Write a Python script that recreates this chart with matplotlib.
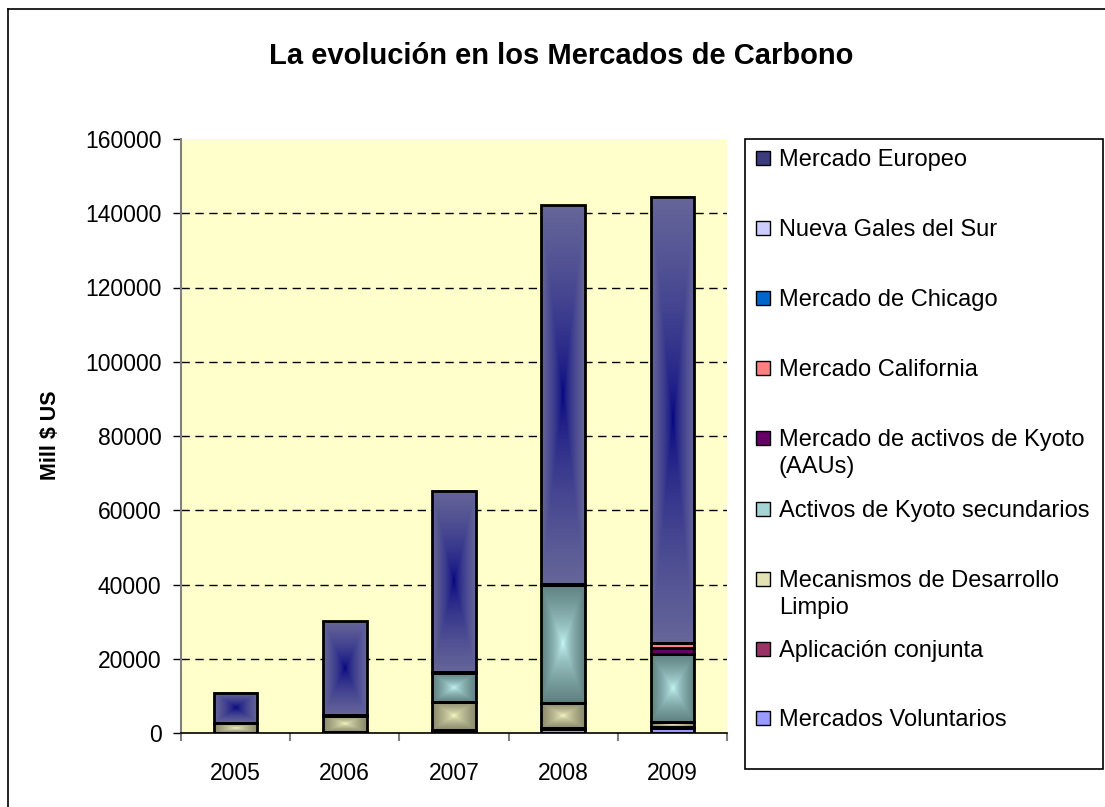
import numpy as np
import matplotlib
matplotlib.use("Agg")
from matplotlib import pyplot as plt
from matplotlib.patches import Rectangle
from matplotlib.lines import Line2D
from matplotlib.colors import to_rgb

plt.rcParams['font.family'] = ['Liberation Sans', 'DejaVu Sans']

# data (Mill $ US), stacked bottom -> top
years = ['2005', '2006', '2007', '2008', '2009']
voluntarios = [50, 100, 300, 1000, 1400]
aplicacion = [70, 140, 500, 300, 350]
mdl = [2450, 4400, 7600, 6700, 1300]
secundarios = [0, 0, 7650, 31900, 18150]
aau = [0, 0, 0, 0, 1800]
california = [0, 0, 0, 0, 1150]
chicago = [3, 40, 70, 100, 50]
nsw = [60, 230, 220, 180, 120]
europeo = [8200, 25300, 48850, 102050, 120140]

series = [
    ('Mercados Voluntarios', voluntarios),
    ('Aplicación conjunta', aplicacion),
    ('Mecanismos de Desarrollo\nLimpio', mdl),
    ('Activos de Kyoto secundarios', secundarios),
    ('Mercado de activos de Kyoto\n(AAUs)', aau),
    ('Mercado California', california),
    ('Mercado de Chicago', chicago),
    ('Nueva Gales del Sur', nsw),
    ('Mercado Europeo', europeo),
]

# flat colour (legend) and optional gradient (edge, centre)
styles = {
    'Mercados Voluntarios': ('#9999ff', None),
    'Aplicación conjunta': ('#993366', None),
    'Mecanismos de Desarrollo\nLimpio': ('#e2e2b4', ('#8a8a6c', '#ffffcc')),
    'Activos de Kyoto secundarios': ('#a4d4d4', ('#5f8080', '#ccffff')),
    'Mercado de activos de Kyoto\n(AAUs)': ('#660066', None),
    'Mercado California': ('#ff8080', None),
    'Mercado de Chicago': ('#0066cc', None),
    'Nueva Gales del Sur': ('#ccccff', None),
    'Mercado Europeo': ('#3c3c7c', ('#666699', '#000080')),
}

W, H = 1105, 807
fig = plt.figure(figsize=(W / 100, H / 100), dpi=100)

def fx(px):
    return px / W

def fy(py):
    return 1 - py / H

ax = fig.add_axes([fx(181), fy(733), fx(727) - fx(181), fy(139) - fy(733)])
ax.set_facecolor('#ffffcc')

x = np.arange(len(years))
bottom = np.zeros(len(years))
for name, vals in series:
    flat, grad = styles[name]
    vals = np.array(vals, dtype=float)
    bars = ax.bar(x, vals, 0.4, bottom=bottom,
                  facecolor='none' if grad else flat,
                  edgecolor='black', linewidth=2, zorder=3)
    if grad:
        edge = np.array(to_rgb(grad[0]))
        centre = np.array(to_rgb(grad[1]))
        for r in bars:
            h = r.get_height()
            if h <= 0:
                continue
            u = np.abs(np.linspace(-1, 1, 80))
            v = np.abs(np.linspace(-1, 1, 240))
            t = np.maximum(u[None, :], v[:, None]) ** 0.6
            img = centre + (edge - centre) * t[..., None]
            ax.imshow(img, extent=[r.get_x(), r.get_x() + r.get_width(),
                                   r.get_y(), r.get_y() + h],
                      origin='lower', aspect='auto', interpolation='bilinear',
                      zorder=2)
    bottom += vals

ax.set_xlim(-0.5, 4.5)
ax.set_ylim(0, 160000)
ax.set_yticks(np.arange(0, 160001, 20000))
ax.set_yticklabels([str(v) for v in range(0, 160001, 20000)])
for yv in range(20000, 160000, 20000):
    ax.axhline(yv, color='black', lw=1, ls=(0, (6, 4)), zorder=1)

ax.set_xticks(x)
ax.set_xticklabels(years)
ax.set_xticks(np.arange(-0.5, 4.6, 1), minor=True)
ax.tick_params(axis='x', which='major', length=0, pad=21, labelsize=16.5)
ax.tick_params(axis='x', which='minor', length=6, width=1.5, color='#808080',
               direction='out')
ax.tick_params(axis='y', length=6, width=1, color='#000000', pad=8,
               labelsize=16.5)
for s in ['top', 'right']:
    ax.spines[s].set_visible(False)
ax.spines['left'].set_color('#808080')
ax.spines['left'].set_linewidth(1.5)
ax.spines['bottom'].set_color('black')
ax.spines['bottom'].set_linewidth(1.2)
ax.spines['bottom'].set_zorder(4)

fig.text(fx(561), fy(56), 'La evolución en los Mercados de Carbono',
         ha='center', va='center', fontsize=21, fontweight='bold')
fig.text(fx(50), fy(435), 'Mill $ US', rotation=90, ha='center',
         va='center', fontsize=15.5, fontweight='bold')

# outer chart border (only top and left edges inside the image)
fig.add_artist(Line2D([fx(8), fx(8)], [fy(9), -0.1], color='black', lw=1.2))
fig.add_artist(Line2D([fx(8), 1.1], [fy(9), fy(9)], color='black', lw=1.2))

# legend box
fig.add_artist(Rectangle((fx(745), fy(769)), fx(1103) - fx(745),
                         fy(139) - fy(769), fill=False, edgecolor='black',
                         lw=1.2, transform=fig.transFigure))
rows = [158, 228, 298, 368, 438, 509, 579, 649, 718]
for (name, _), py in zip(series[::-1], rows):
    flat = styles[name][0]
    fig.add_artist(Rectangle((fx(756), fy(py + 7)), fx(14), 14 / H,
                             facecolor=flat, edgecolor='black', lw=1,
                             transform=fig.transFigure))
    fig.text(fx(779), fy(py - 9), name, ha='left', va='top', fontsize=17,
             linespacing=1.3)

fig.savefig('out.png', dpi=100)
